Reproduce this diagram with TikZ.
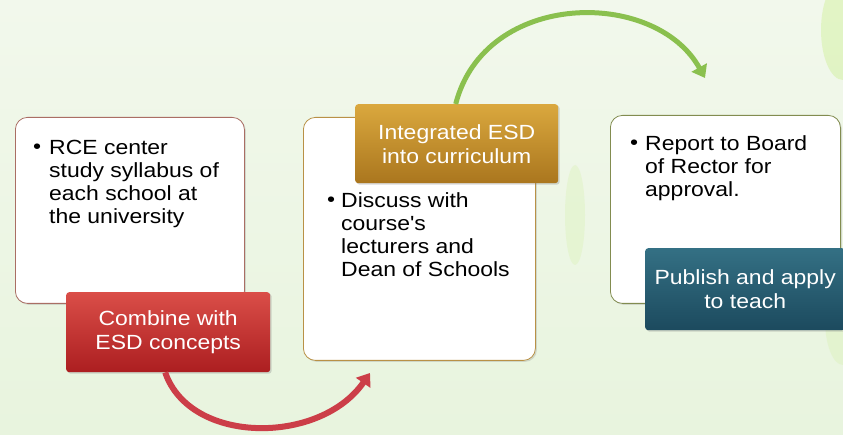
\documentclass[tikz,border=0pt]{standalone}
\usepackage{fontspec}
\setmainfont{Liberation Sans}[FakeStretch=1.12]
\newfontfamily\quotefont{Liberation Sans}[FakeStretch=1.12, Ligatures=ResetAll]
\usetikzlibrary{arrows.meta,shadows}
\definecolor{bgc}{RGB}{232,244,222}
\definecolor{bgtop}{RGB}{242,248,236}
\definecolor{redtop}{RGB}{218,78,72}
\definecolor{redbot}{RGB}{172,30,32}
\definecolor{goldtop}{RGB}{218,168,62}
\definecolor{goldbot}{RGB}{170,118,30}
\definecolor{tealtop}{RGB}{52,112,132}
\definecolor{tealbot}{RGB}{28,74,94}
\definecolor{redarrow}{RGB}{204,62,72}
\definecolor{greenarrow}{RGB}{138,192,78}
\definecolor{brdred}{RGB}{170,110,100}
\definecolor{brdgold}{RGB}{185,145,70}
\definecolor{brdolive}{RGB}{130,140,80}
\definecolor{blob}{RGB}{190,235,110}
\tikzset{
  whitebox/.style={draw, line width=0.8pt, fill=white, rounded corners=12pt,
    inner sep=0pt, anchor=north west, drop shadow={opacity=0.25,shadow xshift=1.5pt,shadow yshift=-1.5pt}},
  labelbox/.style={rounded corners=3pt, inner sep=0pt, anchor=north west,
    text=white, font=\fontsize{20.5}{24}\selectfont, align=center,
    drop shadow={opacity=0.3,shadow xshift=1.5pt,shadow yshift=-1.5pt}},
  bodytext/.style={anchor=base west, inner sep=0pt, font=\fontsize{20.5}{23.3}\selectfont, align=left},
  bullet/.style={anchor=base west, inner sep=0pt, font=\fontsize{20.5}{23.3}\selectfont},
  flowarrow/.style={line width=6pt, -{Triangle[width=17pt,length=12pt]}},
}
\begin{document}
\begin{tikzpicture}[x=1pt,y=-1pt]
\useasboundingbox (0,0) rectangle (843,435);
\begin{scope}
\clip (0,0) rectangle (843,435);
\shade[top color=bgtop, bottom color=bgc] (0,0) rectangle (843,435);
\fill[blob, opacity=0.3] (843,30) ellipse (22pt and 50pt);
\fill[blob, opacity=0.15] (843,320) ellipse (18pt and 45pt);
\fill[blob, opacity=0.15] (575,215) ellipse (10pt and 50pt);

% white boxes
\node[whitebox, draw=brdred, minimum width=229pt, minimum height=186pt] (box1) at (15,117) {};
\node[whitebox, draw=brdgold, minimum width=232pt, minimum height=243pt] (box2) at (303,117) {};
\node[whitebox, draw=brdolive, minimum width=230pt, minimum height=188pt] (box3) at (610,115) {};

% bullet texts (base anchor = last line baseline)
\node[bullet] (b1) at (33,154) {•};
\node[bodytext] (t1) at (49,224) {RCE center\\study syllabus of\\each school at\\the university};
\node[bullet] (b2) at (327,207) {•};
\node[bodytext] (t2) at (341,277) {Discuss with\\course{\quotefont'}s\\lecturers and\\Dean of Schools};
\node[bullet] (b3) at (630,150) {•};
\node[bodytext] (t3) at (645,197) {Report to Board\\of Rector for\\approval.};

% coloured label boxes
\node[labelbox, top color=redtop, bottom color=redbot, minimum width=204pt, minimum height=80pt] (lab1) at (66,292) {Combine with\\ESD concepts};
\node[labelbox, top color=goldtop, bottom color=goldbot, minimum width=203pt, minimum height=79pt] (lab2) at (355,104) {Integrated ESD\\into curriculum};
\node[labelbox, top color=tealtop, bottom color=tealbot, minimum width=200pt, minimum height=82pt] (lab3) at (645,248) {Publish and apply\\to teach};

% arrows
\coordinate (redend) at (370,373);
\coordinate (greenend) at (705,78);
\draw[flowarrow, redarrow] ([xshift=-3pt]lab1.south) .. controls (190,445) and (320,445) .. (redend);
\draw[flowarrow, greenarrow, line width=5pt] ([xshift=-1pt]lab2.north) .. controls (485,-10) and (655,-12) .. (greenend);
\end{scope}
\end{tikzpicture}
\end{document}
